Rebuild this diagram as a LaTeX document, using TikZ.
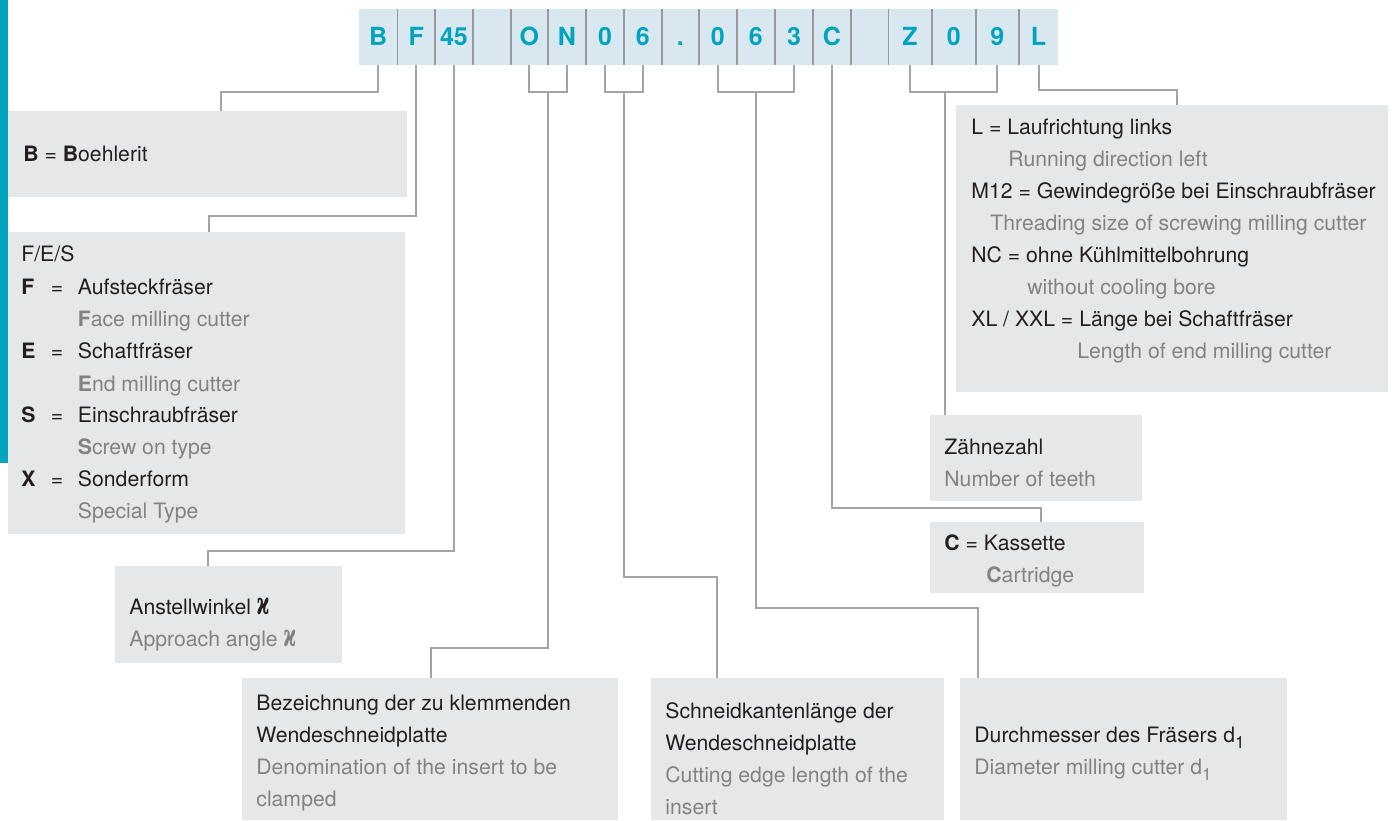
\documentclass[tikz,border=0pt]{standalone}
\usepackage{amsmath}
\usepackage{graphicx}
\usepackage{fontspec}
\setmainfont{TeX Gyre Heros}
\newfontfamily\kappafont{DejaVu Serif}
\usepackage{tikz}
\usetikzlibrary{positioning,calc}
\definecolor{codeteal}{RGB}{0,164,189}
\definecolor{codebar}{RGB}{217,232,240}
\definecolor{codesep}{RGB}{150,154,158}
\definecolor{boxgray}{RGB}{230,231,232}
\definecolor{linegray}{RGB}{163,164,167}
\definecolor{txtdark}{RGB}{35,31,32}
\definecolor{txtgray}{RGB}{128,130,133}
\newcommand{\keyeq}[1]{\makebox[14.7pt][l]{\textbf{#1}}\makebox[13.6pt][l]{=}}
\newcommand{\dsub}{\raisebox{-3pt}{\fontsize{8.5}{8.5}\selectfont 1}}
\newcommand{\kap}{\scalebox{1}[1.65]{\kappafont\bfseries\fontsize{9.5}{9.5}\selectfont ϰ}}

\begin{document}
\begin{tikzpicture}[x=0.5pt, y=-0.5pt,
    code/.style={inner sep=0pt, outer sep=0pt, minimum height=28.25pt, text height=9pt, text depth=0pt, text=codeteal, font=\fontsize{12.5}{12.5}\selectfont\bfseries},
    box/.style={fill=boxgray, anchor=north west, inner sep=0pt, outer sep=0pt},
    de/.style={anchor=base west, inner sep=0pt, text=txtdark, font=\fontsize{10.6}{12}\selectfont},
    en/.style={de, text=txtgray},
    conn/.style={draw=linegray, line width=1pt}]
    \useasboundingbox (0,0) rectangle (1398,820);

    % Randleiste
    \fill[codeteal] (0,0) rectangle (8,463);

    % Bezeichnungsschluessel
    \fill[codebar] (359,8.5) rectangle (1058,65);
    \foreach \x in {397.3,435,472.7,510.7,548,586,624,661.7,699,736.7,775,813,851,888.3,931.7,975.7,1019}
        \draw[codesep, line width=0.8pt] (\x,8.5) -- (\x,65);
    \foreach \x/\n/\t in {378.2/cB/B, 416.2/cF/F, 453.9/c45/45, 529.4/cO/O, 567/cN/N, 605/c0a/0, 642.9/c6a/6, 680.4/cDot/., 717.9/c0b/0, 755.9/c6b/6, 794/c3/3, 832/cC/C, 910/cZ/Z, 953.7/c0c/0, 997.4/c9/9, 1038.5/cL/L}
        \node[code] (\n) at (\x,36.75) {\t};

    % Boxen
    \node[box, minimum width=199.5pt, minimum height=43pt] (bxB) at (8,111) {};
    \node[box, minimum width=198.5pt, minimum height=151pt] (bxF) at (8,232) {};
    \node[box, minimum width=113.5pt, minimum height=48.5pt] (bxA) at (115,566) {};
    \node[box, minimum width=188pt, minimum height=71pt] (bxD) at (242,678) {};
    \node[box, minimum width=146.5pt, minimum height=71pt] (bxK) at (651,678) {};
    \node[box, minimum width=163.5pt, minimum height=71pt] (bxM) at (960,678) {};
    \node[box, minimum width=106pt, minimum height=43pt] (bxZ) at (930,415) {};
    \node[box, minimum width=107pt, minimum height=35.5pt] (bxC) at (930,522) {};
    \node[box, minimum width=216pt, minimum height=143.5pt] (bxL) at (956,105) {};

    % Verbindungen
    \draw[conn] (cB.south) -- ++(0,27) -| ($(bxB.north west)+(213,0)$);
    \draw[conn] (cF.south) -- ++(0,151) -| ($(bxF.north west)+(201,0)$);
    \draw[conn] (c45.south) -- ++(0,485.7) -| ($(bxA.north west)+(93,0)$);
    \draw[conn] (cO.south) -- ++(0,27) -| (cN.south);
    \draw[conn] ($(cO.south)!0.5!(cN.south)+(0,27)$) -- ++(0,556) -| ($(bxD.north west)+(189,0)$);
    \draw[conn] (c0a.south) -- ++(0,27) -| (c6a.south);
    \draw[conn] ($(c0a.south)!0.5!(c6a.south)+(0,27)$) -- ++(0,485) -| ($(bxK.north west)+(66,0)$);
    \draw[conn] (c0b.south) -- ++(0,27) -| (c3.south);
    \draw[conn] ($(c0b.south)!0.5!(c3.south)+(0,27)$) -- ++(0,516) -| ($(bxM.north west)+(18,0)$);
    \draw[conn] (cC.south) -- ++(0,443) -| ($(bxC.north west)+(110.6,0)$);
    \draw[conn] (cZ.south) -- ++(0,27) -| (c9.south);
    \draw[conn] ($(cZ.south)+(35,27)$) -- ($(bxZ.north west)+(15,0)$);
    \draw[conn] (cL.south) -- ++(0,25) -| ($(bxL.north west)+(220.7,0)$);

    % B
    \node[de] (tB) at (23,161) {\textbf{B} = \textbf{B}oehlerit};

    % F/E/S
    \node[de] (tF0) at (21,261.5) {F/E/S};
    \node[de] (tF1) at (21,294) {\keyeq{F}Aufsteckfräser};
    \node[en] (tF2) at (77.5,326.5) {\textbf{F}ace milling cutter};
    \node[de] (tE1) at (21,358) {\keyeq{E}Schaftfräser};
    \node[en] (tE2) at (77.5,391) {\textbf{E}nd milling cutter};
    \node[de] (tS1) at (21,422) {\keyeq{S}Einschraubfräser};
    \node[en] (tS2) at (77.5,454) {\textbf{S}crew on type};
    \node[de] (tX1) at (21,486) {\keyeq{X}Sonderform};
    \node[en] (tX2) at (77.5,518) {Special Type};

    % Anstellwinkel
    \node[de] (tA1) at (129,614) {Anstellwinkel \kap};
    \node[en] (tA2) at (129,646.5) {Approach angle \kap};

    % Wendeschneidplatte
    \node[de] (tD1) at (256,710) {Bezeichnung der zu klemmenden};
    \node[de] (tD2) at (256,742) {Wendeschneidplatte};
    \node[en] (tD3) at (256,774) {Denomination of the insert to be};
    \node[en] (tD4) at (256,806) {clamped};

    % Schneidkantenlaenge
    \node[de] (tK1) at (665,718) {Schneidkantenlänge der};
    \node[de] (tK2) at (665,750) {Wendeschneidplatte};
    \node[en] (tK3) at (665,782) {Cutting edge length of the};
    \node[en] (tK4) at (665,814) {insert};

    % Durchmesser
    \node[de] (tM1) at (974,742.5) {Durchmesser des Fräsers d\dsub};
    \node[en] (tM2) at (974,774) {Diameter milling cutter d\dsub};

    % Zaehnezahl
    \node[de] (tZ1) at (944,454) {Zähnezahl};
    \node[en] (tZ2) at (944,486.5) {Number of teeth};

    % Kassette
    \node[de] (tC1) at (944,550) {\textbf{C} = Kassette};
    \node[en] (tC2) at (986,582.5) {\textbf{C}artridge};

    % Laufrichtung
    \node[de] (tL1) at (971,134) {L = Laufrichtung links};
    \node[en] (tL2) at (1008,166.5) {Running direction left};
    \node[de] (tL3) at (971,198) {M12 = Gewindegröße bei Einschraubfräser};
    \node[en] (tL4) at (990,230) {Threading size of screwing milling cutter};
    \node[de] (tL5) at (971,262) {NC = ohne Kühlmittelbohrung};
    \node[en] (tL6) at (1027,294) {without cooling bore};
    \node[de] (tL7) at (971,326) {XL / XXL = Länge bei Schaftfräser};
    \node[en] (tL8) at (1077,358) {Length of end milling cutter};
\end{tikzpicture}
\end{document}
